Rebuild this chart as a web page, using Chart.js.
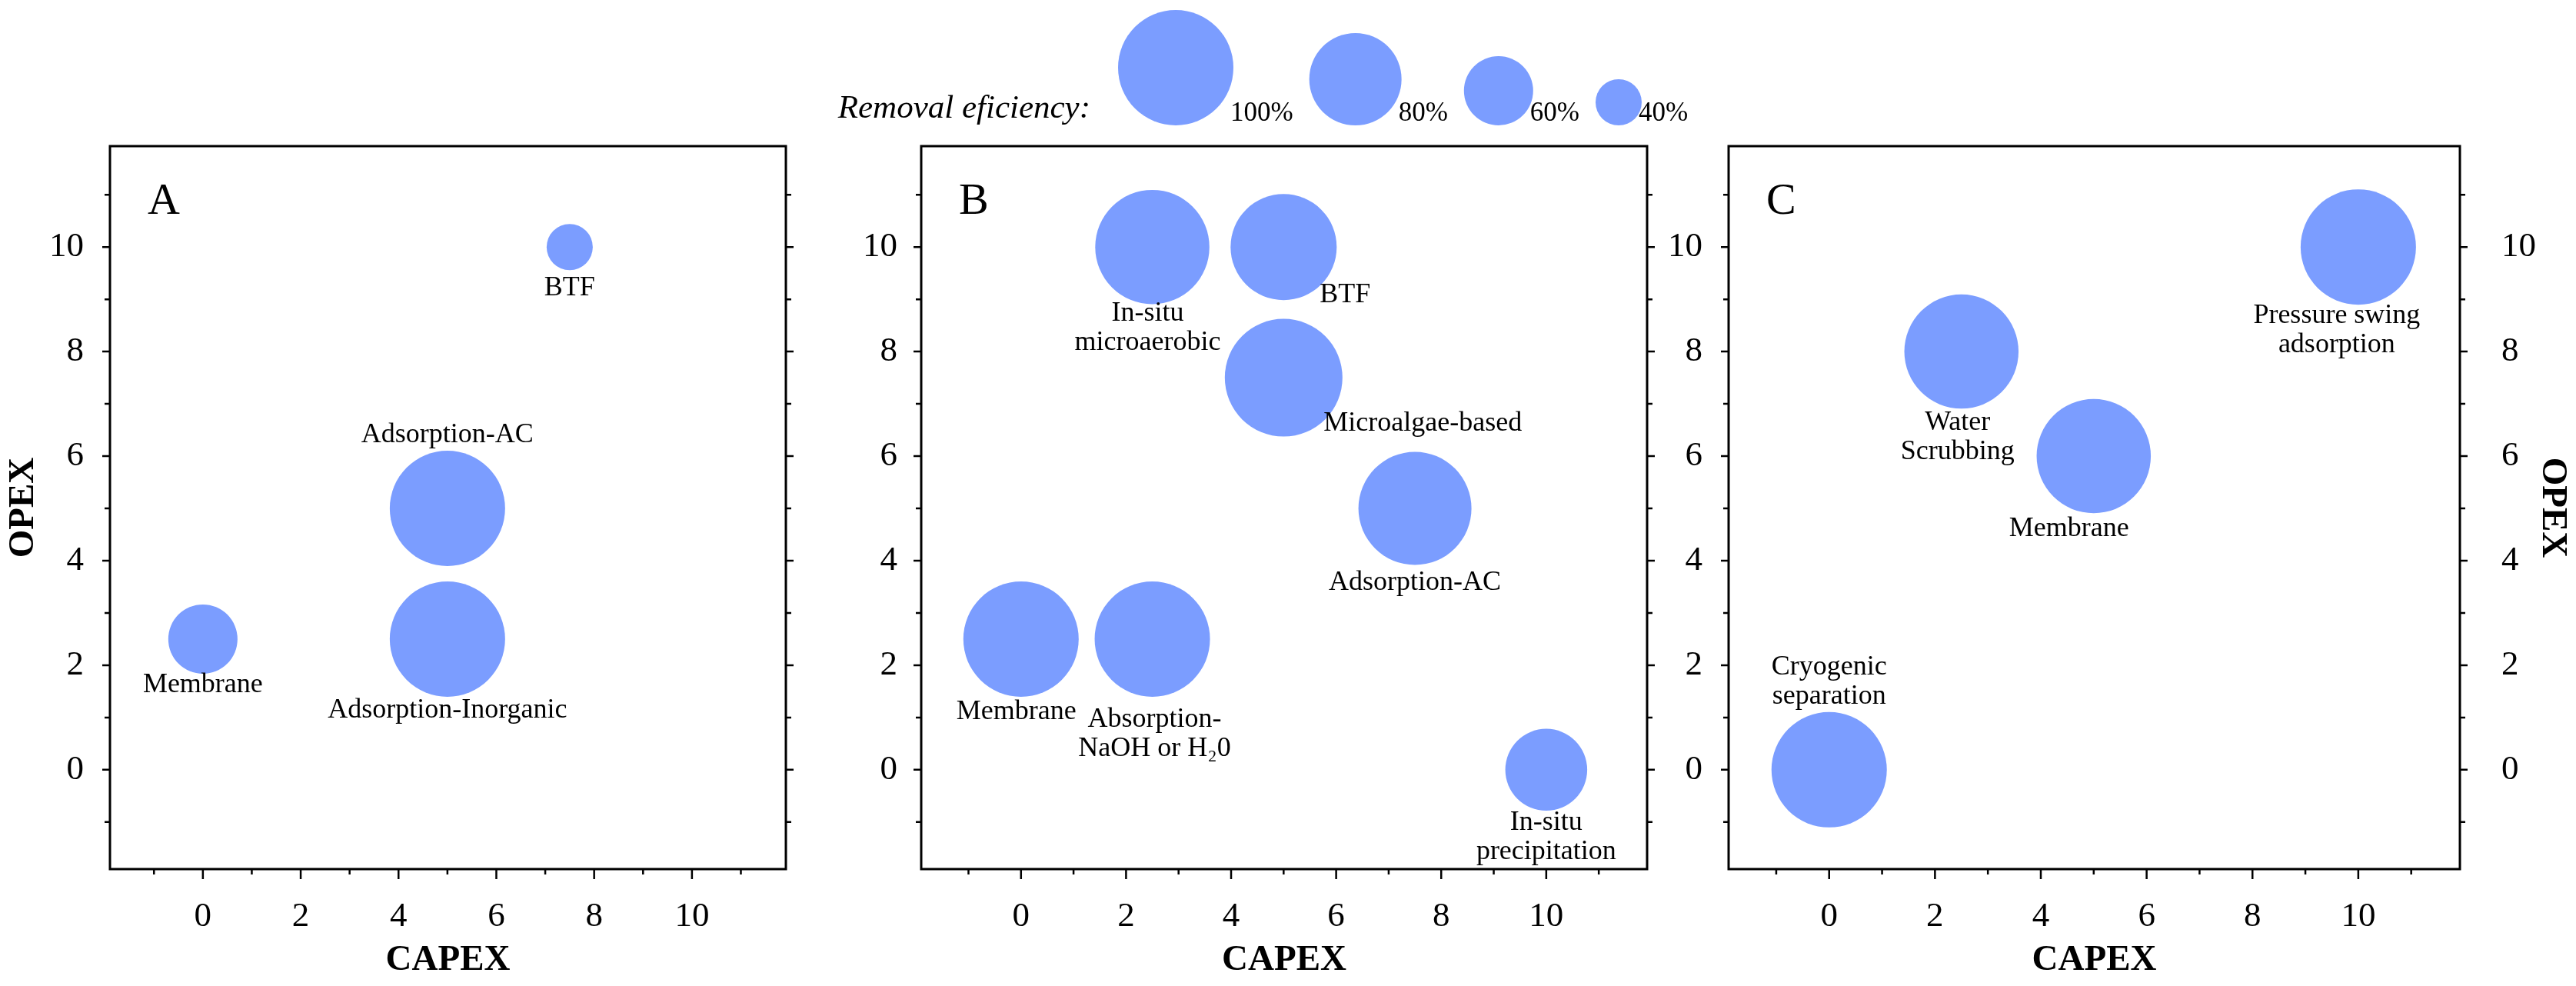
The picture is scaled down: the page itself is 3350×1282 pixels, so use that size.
<!DOCTYPE html>
<html>
<head>
<meta charset="utf-8">
<script src="https://cdn.jsdelivr.net/npm/chart.js@4.4.0/dist/chart.umd.min.js"></script>
<style>
html, body { margin: 0; padding: 0; background: #fff; overflow: hidden; }
#wrap { position: relative; width: 3350px; height: 1282px; }
canvas { position: absolute; top: 0; }
</style>
</head>
<body>
<div id="wrap">
  <canvas id="chartA" width="1097" height="1282" style="left:0px"></canvas>
  <canvas id="chartB" width="1180" height="1282" style="left:1050px"></canvas>
  <canvas id="chartC" width="1198" height="1282" style="left:2152px"></canvas>
</div>
<script>
// axis ticks (same on both axes of every panel)
const tickValues = [-1, 0, 1, 2, 3, 4, 5, 6, 7, 8, 9, 10, 11];
const tickLabels = [0, 2, 4, 6, 8, 10];

// removal efficiency legend (%)
const legendValues = [100, 80, 60, 40];

// panel A
const techA  = ['Membrane', 'Adsorption-AC', 'Adsorption-Inorganic', 'BTF'];
const capexA = [0, 5, 5, 7.5];
const opexA  = [2.5, 5, 2.5, 10];
const effA   = [60, 100, 100, 40];

// panel B
const techB  = ['In-situ\nmicroaerobic', 'BTF', 'Microalgae-based', 'Adsorption-AC', 'Membrane', 'Absorption-\nNaOH or H\u20820', 'In-situ\nprecipitation'];
const capexB = [2.5, 5, 5, 7.5, 0, 2.5, 10];
const opexB  = [10, 10, 7.5, 5, 2.5, 2.5, 0];
const effB   = [99, 92, 102, 98, 100, 100, 71];

// panel C
const techC  = ['Cryogenic\nseparation', 'Water\nScrubbing', 'Membrane', 'Pressure swing\nadsorption'];
const capexC = [0, 2.5, 5, 10];
const opexC  = [0, 8, 6, 10];
const effC   = [100, 99, 99, 100];

// label placement (layout only)
const placeA = ['below', 'above', 'below', 'below'];
const shiftA = [[0, -4], [0, 0], [0, -1], [0, 5]];
const placeB = ['below', 'right', 'right', 'below', 'below', 'below', 'below'];
const shiftB = [[-6, -6], [0, 5], [0, -6], [0, 4], [-6, 1], [3, 11], [0, -3]];
const placeC = ['above', 'below', 'below', 'below'];
const shiftC = [[0, 0], [-5, 0], [-32, 2], [-28, -4]];

const bubbleColor = 'rgb(123,157,255)';
const bubbleSize = e => e * 0.75;

Chart.defaults.font.family = '"Liberation Serif", "Times New Roman", serif';
Chart.defaults.color = '#000';

const tickFont = { size: 45 };
const titleFont = { size: 47, weight: 'bold' };

const framePlugin = {
  id: 'frame',
  afterDatasetsDraw(chart, args, opts) {
    const ctx = chart.ctx;
    const meta = chart.getDatasetMeta(0);
    ctx.save();
    ctx.font = '36px "Liberation Serif"';
    ctx.fillStyle = '#000';
    ctx.textBaseline = 'alphabetic';
    meta.data.forEach((el, i) => {
      const r = el.options.radius;
      const lines = opts.names[i].split('\n');
      const [dx, dy] = opts.shift[i];
      const x = el.x + dx;
      if (opts.place[i] === 'below') {
        ctx.textAlign = 'center';
        lines.forEach((t, k) => ctx.fillText(t, x, el.y + r + 28 + dy + k * 38));
      } else if (opts.place[i] === 'above') {
        ctx.textAlign = 'center';
        lines.forEach((t, k) => ctx.fillText(t, x, el.y - r - 11 + dy - (lines.length - 1 - k) * 38));
      } else {
        ctx.textAlign = 'left';
        ctx.fillText(lines[0], el.x + 0.68 * r + dx, el.y + r - 2 + dy);
      }
    });
    ctx.restore();
  },
  afterDraw(chart, args, opts) {
    const { ctx, chartArea: a, scales } = chart;
    const xs = scales.x, ys = scales.y;
    ctx.save();
    ctx.strokeStyle = '#000';
    ctx.lineWidth = 2.5;
    ctx.beginPath();
    tickValues.forEach(v => {
      const major = tickLabels.includes(v);
      const py = ys.getPixelForValue(v);
      const ly = major ? 10 : 7;
      ctx.moveTo(a.left - ly, py); ctx.lineTo(a.left, py);
      ctx.moveTo(a.right, py); ctx.lineTo(a.right + ly, py);
      const px = xs.getPixelForValue(v);
      const lx = major ? 13 : 7;
      ctx.moveTo(px, a.bottom); ctx.lineTo(px, a.bottom + lx);
    });
    ctx.stroke();
    ctx.lineWidth = 3;
    ctx.strokeRect(a.left, a.top, a.right - a.left, a.bottom - a.top);

    ctx.fillStyle = '#000';
    ctx.textAlign = 'left';
    ctx.textBaseline = 'alphabetic';
    ctx.font = '58px "Liberation Serif"';
    ctx.fillText(opts.letter, a.left + 49, a.top + 88);

    if (opts.legend) {
      // removal efficiency key above the middle panel
      const right = a.left + 220;
      const bottom = a.top - 27;
      ctx.font = 'italic 43px "Liberation Serif"';
      ctx.textAlign = 'right';
      ctx.fillText('Removal eficiency:', right, a.top - 37);
      ctx.textAlign = 'left';
      ctx.font = '35px "Liberation Serif"';
      let x = right + 36;
      legendValues.forEach(e => {
        const r = bubbleSize(e);
        ctx.fillStyle = bubbleColor;
        ctx.beginPath();
        ctx.arc(x + r, bottom - r, r, 0, Math.PI * 2);
        ctx.fill();
        const lab = e + '%';
        const lx = x + 2 * r - 4;
        ctx.fillStyle = '#000';
        ctx.fillText(lab, lx, bottom - 6);
        x = lx + ctx.measureText(lab).width + 21;
      });
    }
    ctx.restore();
  }
};

function yAxis(position, width, pad, showTitle, titlePad) {
  return {
    type: 'linear',
    position: position,
    min: -1.9,
    max: 11.93,
    afterBuildTicks: s => { s.ticks = tickValues.map(v => ({ value: v })); },
    afterFit: s => { s.width = width; },
    grid: { display: false, drawTicks: false },
    border: { display: false },
    ticks: {
      autoSkip: false,
      padding: pad,
      color: '#000',
      font: tickFont,
      callback: v => tickLabels.includes(v) ? String(v) : ''
    },
    title: { display: showTitle, text: 'OPEX', color: '#000', font: titleFont, padding: { top: titlePad, bottom: 0 } }
  };
}

function panel(id, o) {
  const scales = {
    x: {
      type: 'linear',
      position: 'bottom',
      min: -1.9,
      max: 11.92,
      afterBuildTicks: s => { s.ticks = tickValues.map(v => ({ value: v })); },
      afterFit: s => { s.height = 152; },
      grid: { display: false, drawTicks: false },
      border: { display: false },
      ticks: {
        autoSkip: false,
        maxRotation: 0,
        padding: 35,
        color: '#000',
        font: tickFont,
        callback: v => tickLabels.includes(v) ? String(v) : ''
      },
      title: { display: true, text: 'CAPEX', color: '#000', font: titleFont, padding: { top: 0, bottom: 5 } }
    },
    y: yAxis('left', o.leftW, o.leftPad, o.leftTitle, 3)
  };
  if (o.rightW) scales.y2 = yAxis('right', o.rightW, 54, true, 3);

  return new Chart(document.getElementById(id), {
    type: 'bubble',
    data: {
      datasets: [{
        data: o.capex.map((c, i) => ({ x: c, y: o.opex[i], r: bubbleSize(o.eff[i]) })),
        backgroundColor: bubbleColor,
        borderWidth: 0,
        hoverBorderWidth: 0
      }]
    },
    options: {
      responsive: false,
      animation: false,
      layout: { padding: { top: 190, right: o.padRight, bottom: 0, left: 0 } },
      scales: scales,
      plugins: {
        legend: { display: false },
        tooltip: { enabled: false },
        frame: { letter: o.letter, names: o.names, place: o.place, shift: o.shift, legend: o.legend }
      }
    },
    plugins: [framePlugin]
  });
}

panel('chartA', { letter: 'A', names: techA, capex: capexA, opex: opexA, eff: effA, place: placeA, shift: shiftA,
  leftW: 143, leftPad: 34, leftTitle: true, padRight: 10 });
panel('chartB', { letter: 'B', names: techB, capex: capexB, opex: opexB, eff: effB, place: placeB, shift: shiftB,
  leftW: 148, leftPad: 31, leftTitle: false, padRight: 88, legend: true });
panel('chartC', { letter: 'C', names: techC, capex: capexC, opex: opexC, eff: effC, place: placeC, shift: shiftC,
  leftW: 96, leftPad: 34, leftTitle: false, rightW: 151, padRight: 0 });
</script>
</body>
</html>
